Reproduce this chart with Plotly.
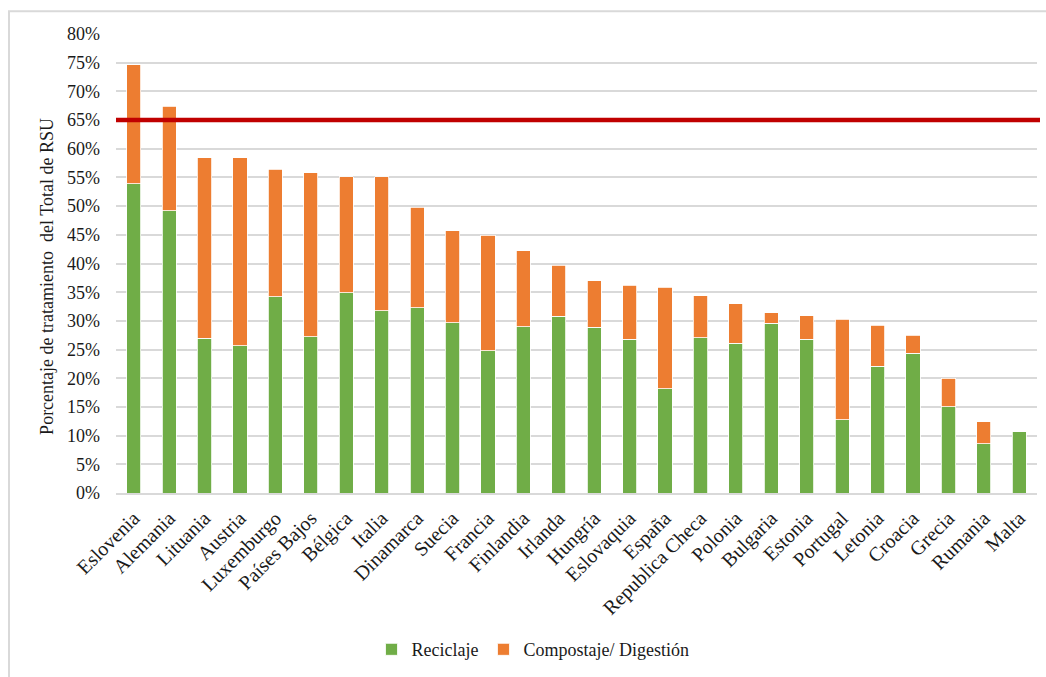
import plotly.graph_objects as go

paises = ["Eslovenia", "Alemania", "Lituania", "Austria", "Luxemburgo", "Países Bajos",
          "Bélgica", "Italia", "Dinamarca", "Suecia", "Francia", "Finlandia", "Irlanda",
          "Hungría", "Eslovaquia", "España", "Republica Checa", "Polonia", "Bulgaria",
          "Estonia", "Portugal", "Letonia", "Croacia", "Grecia", "Rumania", "Malta"]

# Porcentaje reciclado (%)
reciclaje = [53.9, 49.2, 27.0, 25.7, 34.2, 27.2, 34.9, 31.8, 32.3, 29.7, 24.8, 29.0, 30.8,
             28.9, 26.8, 18.2, 27.1, 26.1, 29.6, 26.8, 12.8, 22.1, 24.4, 15.0, 8.6, 10.7]

# Total reciclaje + compostaje (%)
total = [74.6, 67.4, 58.4, 58.4, 56.4, 55.8, 55.1, 55.1, 49.8, 45.7, 44.9, 42.2, 39.7,
         37.0, 36.2, 35.9, 34.4, 33.0, 31.4, 30.9, 30.3, 29.2, 27.5, 20.0, 12.4, 10.7]

compostaje = [round(t - r, 1) for t, r in zip(total, reciclaje)]

objetivo = 65  # objetivo de reciclaje 2035 (%)

y_ticks = list(range(0, 81, 5))
y_labels = [f"{v}%" for v in y_ticks]

FONT = "Times New Roman, Liberation Serif, serif"
TXT = "#1a1a1a"

fig = go.Figure()
fig.add_trace(go.Bar(x=paises, y=reciclaje, name="Reciclaje",
                     marker=dict(color="#70AD47", line=dict(color="#FFFFFF", width=0.8))))
fig.add_trace(go.Bar(x=paises, y=compostaje, name="Compostaje/ Digestión",
                     marker=dict(color="#ED7D31", line=dict(color="#FFFFFF", width=0.8))))

L, R, T, B = 116, 9, 34, 180
W, H = 1046, 677
pw, ph = W - L - R, H - T - B

def px_x(x):
    return (x - L) / pw

def px_y(y):
    return (H - B - y) / ph

shapes = [
    # línea del objetivo
    dict(type="line", xref="paper", yref="y", x0=0, x1=px_x(1040), y0=objetivo, y1=objetivo,
         line=dict(color="#C00000", width=4.5)),
    # marco del gráfico
    dict(type="rect", xref="paper", yref="paper", x0=px_x(9), x1=px_x(1060),
         y0=px_y(700), y1=px_y(11), line=dict(color="#D9D9D9", width=2),
         fillcolor="rgba(0,0,0,0)", layer="below"),
]

annotations = [
    dict(text="Porcentaje de tratamiento  del Total de RSU", textangle=-90,
         xref="paper", yref="paper", x=px_x(47), y=px_y(279),
         xanchor="center", yanchor="middle", showarrow=False,
         font=dict(family=FONT, size=18, color=TXT)),
]

fig.update_layout(
    width=W, height=H,
    margin=dict(l=L, r=R, t=T, b=B),
    barmode="stack",
    bargap=0.6,
    plot_bgcolor="white",
    paper_bgcolor="white",
    font=dict(family=FONT, size=18, color=TXT),
    shapes=shapes,
    annotations=annotations,
    legend=dict(orientation="h", x=px_x(533), xanchor="center", y=px_y(655), yanchor="middle",
                font=dict(family=FONT, size=18, color=TXT), itemwidth=30,
                traceorder="normal"),
    xaxis=dict(tickangle=-45, showgrid=False, showline=True, linecolor="#D9D9D9", linewidth=1.5,
               ticks="", ticklabelstandoff=4, tickfont=dict(family=FONT, size=20, color=TXT)),
    yaxis=dict(range=[0, 80], tickmode="array", tickvals=y_ticks, ticktext=y_labels,
               showgrid=True, gridcolor="#D9D9D9", gridwidth=1.5, zeroline=False,
               showline=False, ticklabelstandoff=15,
               tickfont=dict(family=FONT, size=18, color=TXT)),
)

fig.write_html("out.html")
